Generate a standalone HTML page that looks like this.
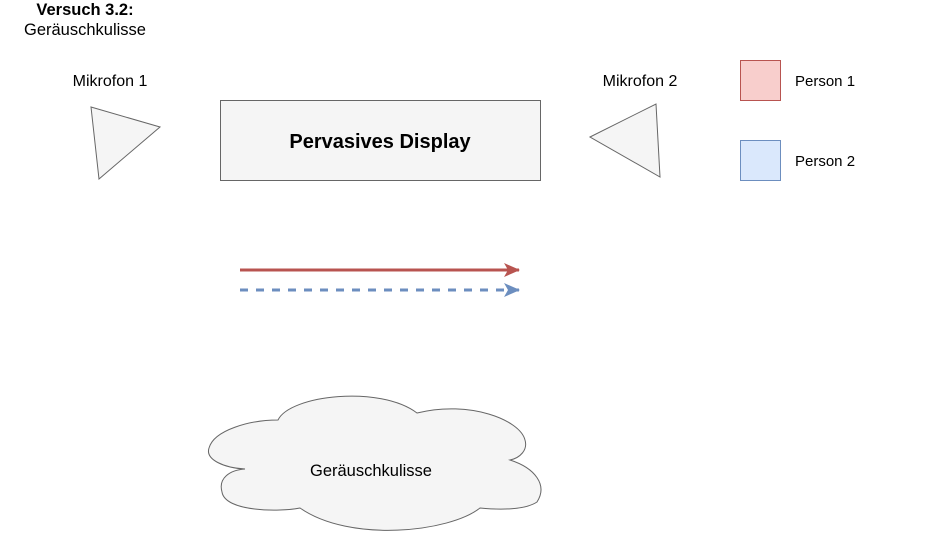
<!DOCTYPE html>
<html><head><meta charset="utf-8"><style>
body{margin:0;background:#fff;}
svg{display:block;font-family:"Liberation Sans",Arial,sans-serif;}
</style></head><body>
<svg width="931" height="541" viewBox="0 0 931 541">
<defs>
<marker id="ar" markerWidth="16" markerHeight="14" refX="15" refY="7" orient="auto" markerUnits="userSpaceOnUse"><path d="M0,0 L16,7 L0,14 L4,7 Z" fill="#b85450"/></marker>
<marker id="ab" markerWidth="16" markerHeight="14" refX="15" refY="7" orient="auto" markerUnits="userSpaceOnUse"><path d="M0,0 L16,7 L0,14 L4,7 Z" fill="#6c8ebf"/></marker>
</defs>
<text x="85" y="15" font-size="16.5" font-weight="bold" text-anchor="middle">Versuch 3.2:</text>
<text x="85" y="35" font-size="16.5" text-anchor="middle">Geräuschkulisse</text>
<text x="110" y="86" font-size="16" text-anchor="middle">Mikrofon 1</text>
<text x="640" y="86" font-size="16" text-anchor="middle">Mikrofon 2</text>
<polygon points="91,107 160,127 99,179" fill="#f5f5f5" stroke="#666"/>
<polygon points="590,137 656,104 660,177" fill="#f5f5f5" stroke="#666"/>
<rect x="220.5" y="100.5" width="320" height="80" fill="#f5f5f5" stroke="#666"/>
<text x="380" y="148" font-size="20" font-weight="bold" text-anchor="middle">Pervasives Display</text>
<rect x="740.5" y="60.5" width="40" height="40" fill="#f8cecc" stroke="#b85450"/>
<text x="795" y="86" font-size="15">Person 1</text>
<rect x="740.5" y="140.5" width="40" height="40" fill="#dae8fc" stroke="#6c8ebf"/>
<text x="795" y="166" font-size="15">Person 2</text>
<line x1="240" y1="270" x2="519" y2="270" stroke="#b85450" stroke-width="3" marker-end="url(#ar)"/>
<line x1="240" y1="290" x2="519" y2="290" stroke="#6c8ebf" stroke-width="3" stroke-dasharray="8,8" marker-end="url(#ab)"/>
<path d="M278,420 C290,395 380,385 417,413 C470,400 520,420 525,440 C528,450 520,458 510,460 C535,468 548,485 537,502 C525,510 500,510 480,508 C450,532 350,543 300,508 C280,512 225,512 222,492 C218,478 230,470 245,469 C225,468 205,460 209,448 C214,430 250,420 278,420 Z" fill="#f5f5f5" stroke="#666"/>
<text x="371" y="476" font-size="16.5" text-anchor="middle">Geräuschkulisse</text>
</svg>
</body></html>
